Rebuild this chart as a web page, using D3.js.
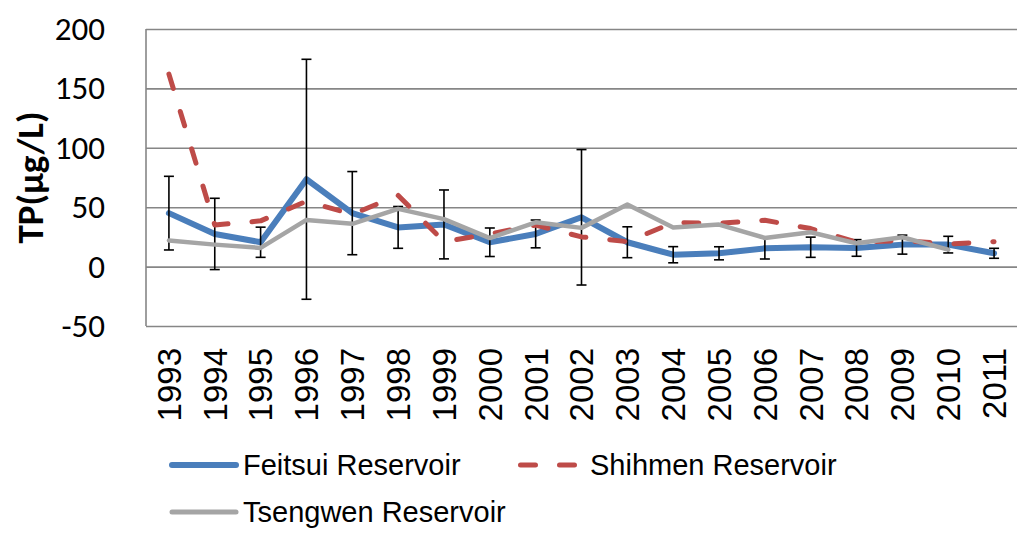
<!DOCTYPE html>
<html>
<head>
<meta charset="utf-8">
<script src="https://cdn.jsdelivr.net/npm/d3@7"></script>
<style>
  html, body { margin: 0; padding: 0; background: #fff; }
  svg { display: block; }
</style>
</head>
<body>
<svg id="chart" width="1024" height="535"></svg>
<script>
const years = ["1993","1994","1995","1996","1997","1998","1999","2000","2001","2002",
               "2003","2004","2005","2006","2007","2008","2009","2010","2011"];
const feitsui    = [45, 27.5, 20.5, 73.5, 45, 33, 35.5, 20.5, 27.5, 41.5, 20.5, 10, 11.2, 15.4, 16.3, 15.7, 18.5, 18.5, 11.2];
const feitsuiErr = [31, 30, 12.7, 101, 35, 17.6, 29, 12, 11.7, 57, 13, 6.8, 5.5, 9, 8.5, 7, 8, 7, 4.2];
const shihmen    = [162, 35, 38.5, 55, 44, 60, 21, 27.5, 35, 25, 21, 37, 36.5, 39, 32, 20.5, 22, 19, 21];
const tsengwen   = [22, 18.5, 15.7, 39.3, 36, 48.6, 40, 24, 37.3, 32.6, 52.2, 33, 35.4, 24.1, 28.9, 19.6, 24.7, 14.3, null];
const yTicks = [-50, 0, 50, 100, 150, 200];
const seriesNames = ["Feitsui Reservoir", "Shihmen Reservoir", "Tsengwen Reservoir"];

const svg = d3.select("#chart");
const L = 146, R = 1017, T = 29, B = 326;

const x = d3.scaleBand().domain(years).range([L, R]).padding(0);
const cx = d => x(d) + x.bandwidth() / 2;
const y = d3.scaleLinear().domain([-50, 200]).range([B, T]);

// gridlines
const grid = svg.append("g").attr("transform", `translate(${L},0)`)
  .call(d3.axisLeft(y).tickValues(yTicks).tickSize(-(R - L)).tickFormat(""));
grid.select(".domain").remove();
grid.selectAll("line").attr("stroke", "#868686").attr("stroke-width", 1.6);

// left axis line
svg.append("line").attr("x1", L).attr("x2", L).attr("y1", T).attr("y2", B)
  .attr("stroke", "#868686").attr("stroke-width", 1.6);

// y tick labels
const yAxis = svg.append("g").attr("transform", `translate(${L},0)`)
  .call(d3.axisLeft(y).tickValues(yTicks).tickSize(0).tickPadding(41).tickFormat(d => String(d)));
yAxis.select(".domain").remove();
yAxis.selectAll("text")
  .attr("font-family", "Carlito, Lato, sans-serif")
  .attr("font-size", 33).attr("fill", "#000");

// x tick labels
const xAxis = svg.append("g").attr("transform", `translate(0,${B})`)
  .call(d3.axisBottom(x).tickSize(0));
xAxis.select(".domain").remove();
xAxis.selectAll("text")
  .attr("font-family", "'Liberation Sans', Arial, sans-serif")
  .attr("font-size", 33).attr("fill", "#000")
  .attr("transform", "rotate(-90)")
  .attr("text-anchor", "end")
  .attr("x", -22).attr("y", 0).attr("dy", "0.36em");

// y title
svg.append("text")
  .attr("transform", `translate(30,${(T + B) / 2}) rotate(-90)`)
  .attr("text-anchor", "middle").attr("dominant-baseline", "central")
  .attr("font-family", "Carlito, Lato, sans-serif")
  .attr("font-weight", "bold").attr("font-size", 37)
  .text("TP(μg/L)");

const line = d3.line().defined(d => d.v != null).x(d => cx(d.k)).y(d => y(d.v));
const toPts = arr => years.map((k, i) => ({ k, v: arr[i] }));

// Feitsui
svg.append("path").datum(toPts(feitsui)).attr("d", line)
  .attr("fill", "none").attr("stroke", "#4A7EBB").attr("stroke-width", 6)
  .attr("stroke-linejoin", "round").attr("stroke-linecap", "round");

// error bars
const eb = svg.append("g").attr("stroke", "#000").attr("stroke-width", 1.6);
years.forEach((k, i) => {
  const hi = y(feitsui[i] + feitsuiErr[i]), lo = y(feitsui[i] - feitsuiErr[i]);
  eb.append("line").attr("x1", cx(k)).attr("x2", cx(k)).attr("y1", hi).attr("y2", lo);
  eb.append("line").attr("x1", cx(k) - 5).attr("x2", cx(k) + 5).attr("y1", hi).attr("y2", hi);
  eb.append("line").attr("x1", cx(k) - 5).attr("x2", cx(k) + 5).attr("y1", lo).attr("y2", lo);
});

// Shihmen
svg.append("path").datum(toPts(shihmen)).attr("d", line)
  .attr("fill", "none").attr("stroke", "#BE4B48").attr("stroke-width", 5)
  .attr("stroke-dasharray", "15,24")
  .attr("stroke-linejoin", "round").attr("stroke-linecap", "round");

// Tsengwen
svg.append("path").datum(toPts(tsengwen)).attr("d", line)
  .attr("fill", "none").attr("stroke", "#A5A5A5").attr("stroke-width", 4.5)
  .attr("stroke-linejoin", "round").attr("stroke-linecap", "round");

// legend
const legend = [
  { name: seriesNames[0], color: "#4A7EBB", w: 6, dash: null, lx1: 172, lx2: 236, ly: 465, tx: 243 },
  { name: seriesNames[1], color: "#BE4B48", w: 5, dash: "15,24", lx1: 520.5, lx2: 574.5, ly: 465, tx: 590 },
  { name: seriesNames[2], color: "#A5A5A5", w: 5, dash: null, lx1: 172, lx2: 236, ly: 512, tx: 243 }
];
legend.forEach(d => {
  svg.append("line")
    .attr("x1", d.lx1).attr("x2", d.lx2).attr("y1", d.ly).attr("y2", d.ly)
    .attr("stroke", d.color).attr("stroke-width", d.w).attr("stroke-linecap", "round")
    .attr("stroke-dasharray", d.dash);
  svg.append("text")
    .attr("x", d.tx).attr("y", d.ly + 10)
    .attr("font-family", "'Liberation Sans', Arial, sans-serif")
    .attr("font-size", 29).attr("fill", "#000")
    .text(d.name);
});
</script>
</body>
</html>
